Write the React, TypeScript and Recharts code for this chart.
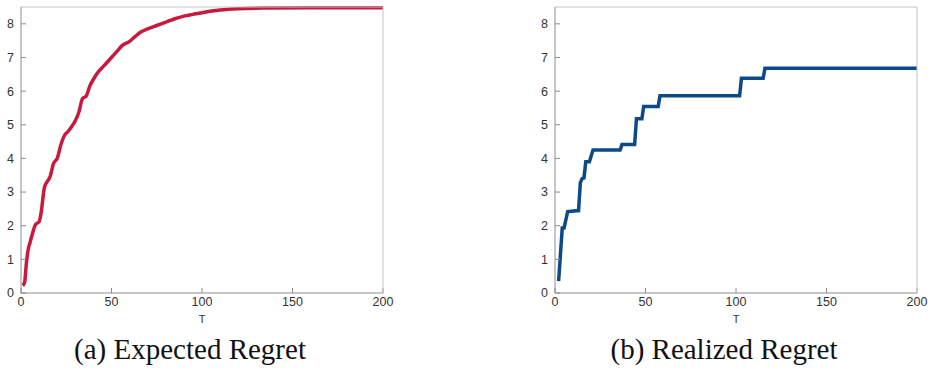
import { LineChart, Line, XAxis, YAxis, Label } from "recharts";

// Expected regret (left panel)
const expectedT = [1, 2, 3, 4, 5, 6, 8, 10, 11, 13, 15, 16, 18, 20, 22, 24, 26, 28, 30, 32, 34, 36, 38, 40, 42, 44, 47, 50, 53, 56, 60, 63, 66, 70, 75, 80, 85, 90, 95, 100, 110, 120, 135, 160, 200];
const expectedRegret = [0.22, 0.32, 0.9, 1.3, 1.5, 1.7, 2.03, 2.12, 2.35, 3.15, 3.35, 3.45, 3.85, 4.0, 4.4, 4.68, 4.8, 4.95, 5.12, 5.38, 5.78, 5.85, 6.15, 6.35, 6.52, 6.65, 6.82, 7.0, 7.18, 7.36, 7.48, 7.62, 7.75, 7.85, 7.95, 8.05, 8.15, 8.23, 8.28, 8.33, 8.41, 8.45, 8.47, 8.48, 8.48];

// Realized regret (right panel)
const realizedT = [2, 4, 5, 7, 9, 13, 14, 15, 16, 17, 19, 21, 36, 37, 44, 45, 48, 49, 57, 58, 102, 103, 115, 116, 200];
const realizedRegret = [0.35, 1.93, 1.93, 2.42, 2.43, 2.45, 3.28, 3.4, 3.42, 3.9, 3.9, 4.25, 4.25, 4.41, 4.41, 5.18, 5.18, 5.54, 5.54, 5.86, 5.86, 6.38, 6.38, 6.68, 6.68];

const xTicks = [0, 50, 100, 150, 200];
const yTicks = [0, 1, 2, 3, 4, 5, 6, 7, 8];

const expectedData = expectedT.map((t, i) => ({ t, v: expectedRegret[i] }));
const realizedData = realizedT.map((t, i) => ({ t, v: realizedRegret[i] }));

const axisColor = "#8c8c8c";
const tickStyle = { fontSize: 12.5, fill: "#333", fontFamily: "Liberation Sans, Arial, sans-serif" };

function Panel({
  data,
  color,
  caption,
  left,
  smooth,
}: {
  data: { t: number; v: number }[];
  color: string;
  caption: string;
  left: number;
  smooth: boolean;
}) {
  return (
    <div style={{ position: "absolute", left, top: 0, width: 400, height: 380 }}>
      <LineChart
        width={400}
        height={340}
        data={data}
        margin={{ top: 6, left: 20, right: 16, bottom: 0 }}
      >
        <XAxis
          xAxisId="b"
          dataKey="t"
          type="number"
          domain={[0, 200]}
          ticks={xTicks}
          stroke={axisColor}
          tick={tickStyle}
          tickSize={-5}
          tickMargin={9}
          height={47}
        >
          <Label
            value="T"
            position="insideTop"
            offset={22}
            fill="#333"
            stroke="none"
            style={{ fill: "#333", fontSize: 11, fontFamily: "Liberation Sans, Arial, sans-serif" }}
          />
        </XAxis>
        <XAxis
          xAxisId="t"
          orientation="top"
          dataKey="t"
          type="number"
          domain={[0, 200]}
          ticks={xTicks}
          stroke="#c4c4c4"
          tick={false}
          tickSize={-5}
          height={1}
        />
        <YAxis
          yAxisId="l"
          type="number"
          domain={[0, 8.5]}
          ticks={yTicks}
          stroke={axisColor}
          tick={tickStyle}
          tickSize={-5}
          tickMargin={12}
          width={1}
        />
        <YAxis
          yAxisId="r"
          orientation="right"
          type="number"
          domain={[0, 8.5]}
          ticks={yTicks}
          stroke="#c4c4c4"
          tick={false}
          tickSize={-5}
          width={1}
        />
        <Line
          xAxisId="b"
          yAxisId="l"
          dataKey="v"
          type={smooth ? "monotone" : "linear"}
          stroke={color}
          strokeWidth={3.5}
          dot={false}
          isAnimationActive={false}
        />
      </LineChart>
      <div
        style={{
          position: "absolute",
          top: 333,
          left: -10,
          width: 400,
          textAlign: "center",
          fontFamily: "Liberation Serif, Times New Roman, serif",
          fontSize: 29,
          color: "#111",
        }}
      >
        {caption}
      </div>
    </div>
  );
}

export default function App() {
  return (
    <div style={{ position: "absolute", left: 0, top: 0, width: 928, height: 380, background: "#fff" }}>
      <Panel data={expectedData} color="#c8193f" caption="(a) Expected Regret" left={0} smooth />
      <Panel data={realizedData} color="#0b4a87" caption="(b) Realized Regret" left={534} smooth={false} />
    </div>
  );
}
